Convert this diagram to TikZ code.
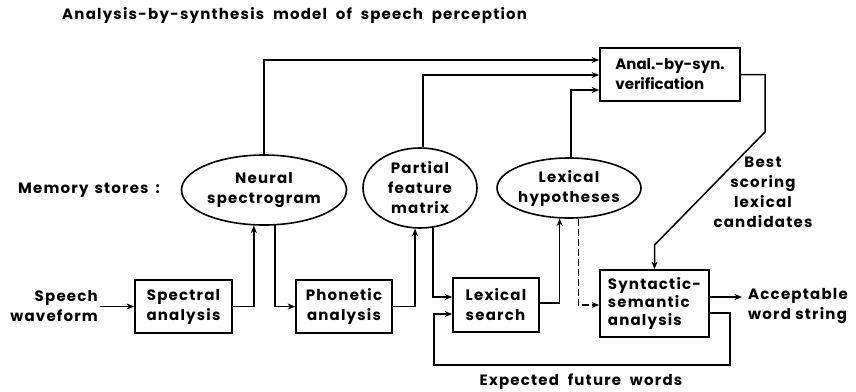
\documentclass[tikz,border=0pt]{standalone}
\usepackage{fontspec}
\setmainfont{Poppins}[LetterSpace=8]
\newfontfamily\tightfont{Poppins}[LetterSpace=0]
\newfontfamily\widefont{Poppins}[LetterSpace=8, WordSpace=2]
\usetikzlibrary{arrows.meta,shapes.geometric}
\begin{document}
\begin{tikzpicture}[x=1pt,y=-1pt,
  txt/.style={font=\fontsize{15}{20}\selectfont\bfseries, align=center, inner sep=0pt},
  box/.style={txt, draw, line width=1.7pt, rectangle},
  ell/.style={txt, draw, ellipse, line width=1.6pt},
  arr/.style={line width=1.5pt, -{Stealth[length=7.5pt,width=6pt]}}]
\fill[white] (0,0) rectangle (856,391);
\useasboundingbox (0,0) rectangle (856,391);
% title and side labels
\node[txt, anchor=west, font=\fontsize{15}{20}\selectfont\widefont\bfseries] (title) at (62,15) {Analysis-by-synthesis model of speech perception};
\node[txt, anchor=west, font=\fontsize{15}{20}\selectfont\widefont\bfseries] (mem) at (18,190) {Memory\hspace{6pt}stores\hspace{7pt}:};
% memory stores
\node[ell, minimum width=165pt, minimum height=70pt] (neural) at (264,190) {Neural\\spectrogram};
\node[ell, minimum width=114pt, minimum height=80pt] (partial) at (420,188) {Partial\\feature\\matrix};
\node[ell, minimum width=144pt, minimum height=60pt] (lexhyp) at (569,188) {Lexical\\hypotheses};
% boxes
\node[box, minimum width=140pt, minimum height=53pt, align=left, font=\fontsize{15}{20}\selectfont\tightfont\bfseries] (anal) at (670,74.5) {Anal.-by-syn.\\verification};
\node[box, minimum width=97pt, minimum height=53pt] (spectral) at (183.5,306.5) {Spectral\\analysis};
\node[box, minimum width=96pt, minimum height=53pt] (phonetic) at (344,306.5) {Phonetic\\analysis};
\node[box, minimum width=86pt, minimum height=54pt, align=left] (lexsearch) at (496,305) {Lexical\\search};
\node[box, minimum width=109pt, minimum height=67pt, align=left, font=\fontsize{15}{18}\selectfont\bfseries] (syntactic) at (654.5,303.5) {Syntactic-\\semantic\\analysis};
% text labels
\node[txt, align=right, anchor=east, inner sep=2pt] (speech) at (100,306.5) {Speech\\waveform};
\node[txt, align=left, anchor=west] (acc) at (748,306) {Acceptable\\word string};
\node[txt] (best) at (763,192) {Best\\scoring\\lexical\\candidates};
\node[txt, font=\fontsize{15}{20}\selectfont\widefont\bfseries] (exp) at (581,382) {Expected future words};
% free corners
\coordinate (b1) at (765,132);
\coordinate (b2) at (654.5,245);
\coordinate (f1) at (730,365);
\coordinate (f2) at (434,365);
% connectors
\draw[arr] (speech.east) -- (spectral.west);
\draw[arr] (spectral.east) -| (neural.-106);
\draw[arr] (neural.-73) |- (phonetic.west);
\draw[arr] (phonetic.east) -| (partial.-97);
\draw[arr] (partial.-72) |- ([yshift=8pt]lexsearch.west);
\draw[arr] ([yshift=2pt]lexsearch.east) -| (lexhyp.-107);
\draw[arr, dash pattern=on 7pt off 3pt] (lexhyp.-73) |- ([yshift=-1.5pt]syntactic.west);
\draw[arr] (neural.north) |- ([yshift=14.5pt]anal.west);
\draw[arr] (partial.86) |- ([yshift=-0.5pt]anal.west);
\draw[arr] (lexhyp.86) |- ([yshift=-15.5pt]anal.west);
\draw[arr] (anal.east) -| (b1) -- (b2) -- (syntactic.north);
\draw[arr] ([yshift=6.5pt]syntactic.east) -- ([yshift=9pt,xshift=-6pt]acc.west);
\draw[arr] ([yshift=-9.5pt]syntactic.east) -| (f1) -- (f2) |- ([yshift=-9pt]lexsearch.west);
\end{tikzpicture}
\end{document}
